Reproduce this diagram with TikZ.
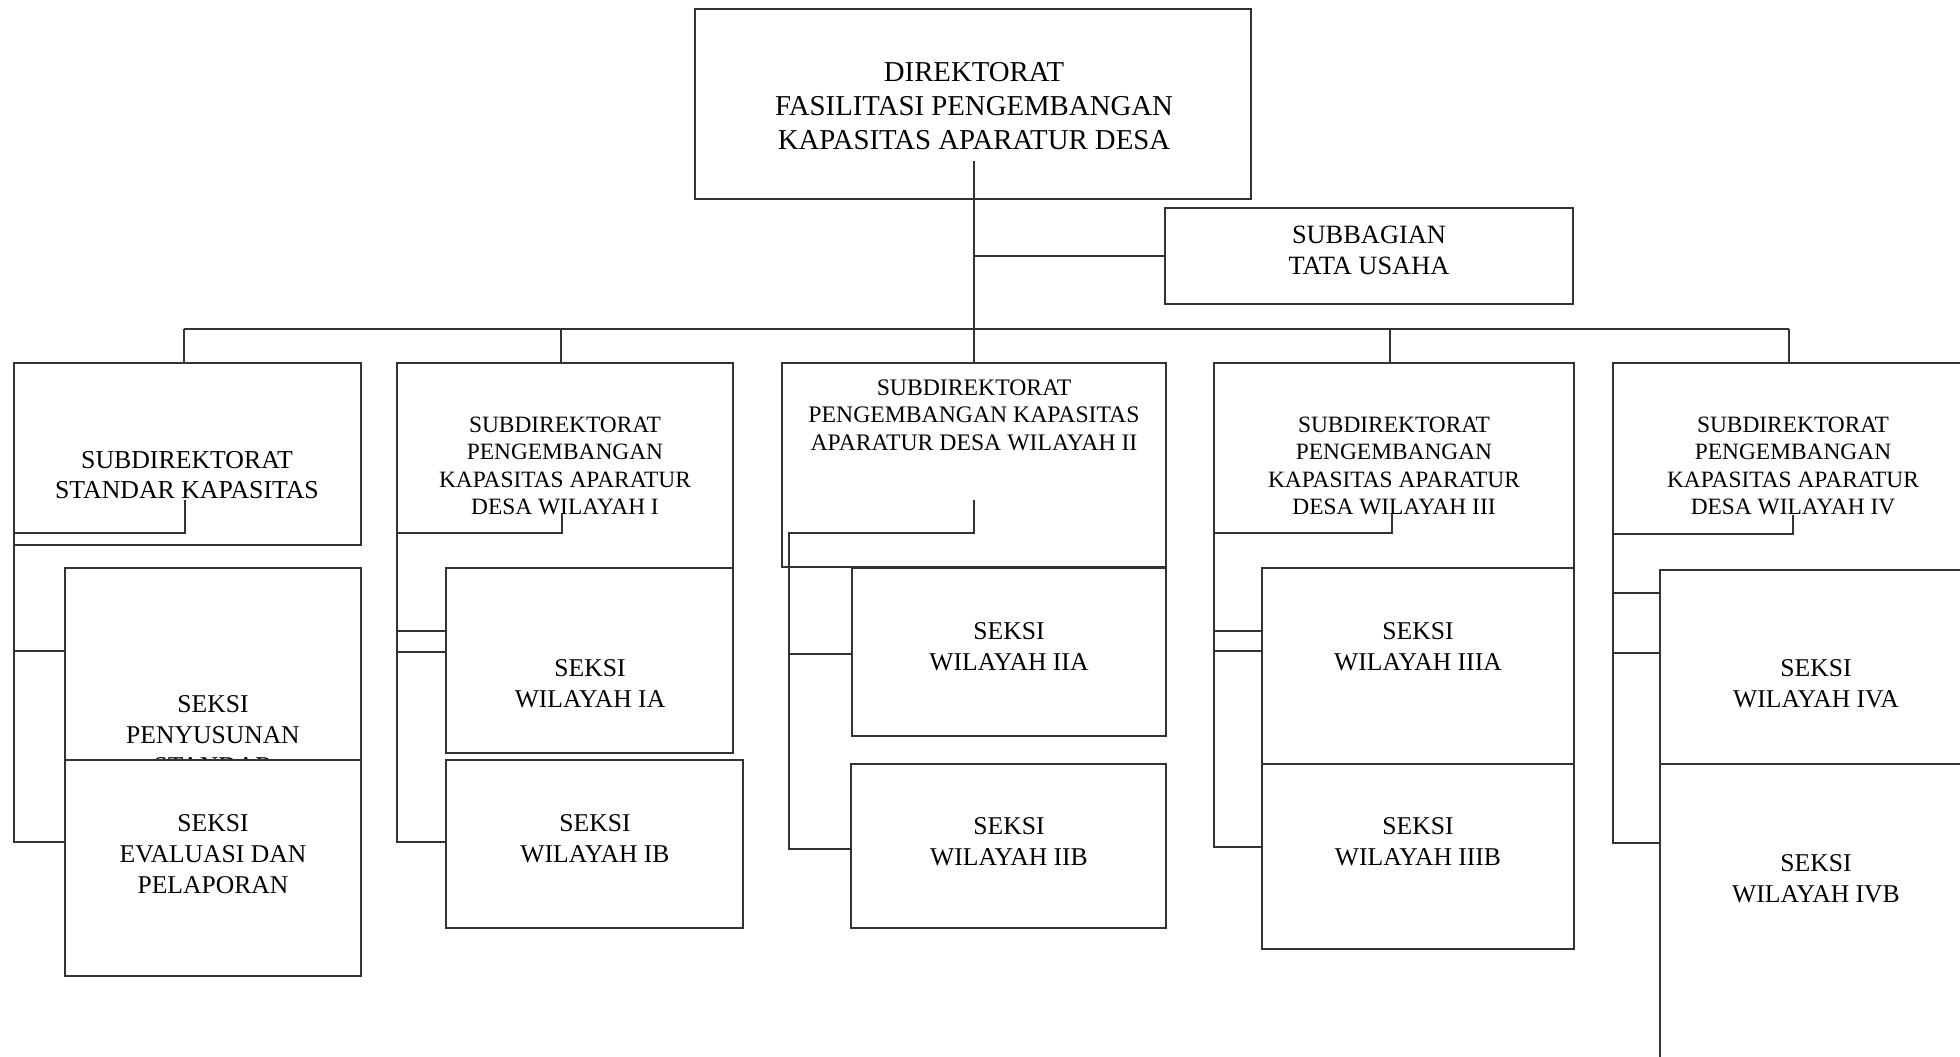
\documentclass[tikz,border=0pt]{standalone}
\usepackage{fontspec}
\setmainfont{Liberation Serif}
\usetikzlibrary{fit}
\begin{document}
\begin{tikzpicture}[x=0.5pt,y=-0.5pt,
  ln/.style={draw=black!80, line width=0.7pt},
  box/.style={ln, rectangle, inner sep=0pt, fill=white},
  tbig/.style={align=center, inner sep=0pt, font=\fontsize{14.4}{16.9}\selectfont},
  tmid/.style={align=center, inner sep=0pt, font=\fontsize{13.2}{15.5}\selectfont},
  tsub/.style={align=center, inner sep=0pt, font=\fontsize{11.7}{13.75}\selectfont},
  tsek/.style={align=center, inner sep=0pt, font=\fontsize{12.8}{15.5}\selectfont}]
\useasboundingbox (0,0) rectangle (1960,1056);
\clip (0,0) rectangle (1960,1056);

% upper boxes
\node[box, fit={(695,9) (1251,199)}] (top) {};
\node[box, fit={(1165,208) (1573,304)}] (tu) {};
\node[box, fit={(14,363) (361,545)}] (s1) {};
\node[box, fit={(397,363) (733,631)}] (s2) {};
\node[box, fit={(782,363) (1166,567)}] (s3) {};
\node[box, fit={(1214,363) (1574,631)}] (s4) {};
\node[box, fit={(1613,363) (1975,593)}] (s5) {};

% texts of upper boxes
\node[tbig] (ttop) at (974,106) {DIREKTORAT\\FASILITASI PENGEMBANGAN\\KAPASITAS APARATUR DESA};
\node[tmid] (ttu) at (1369,250) {SUBBAGIAN\\TATA USAHA};
\node[tmid, font=\fontsize{12.9}{15}\selectfont] (ts1) at (187,475) {SUBDIREKTORAT\\STANDAR KAPASITAS};
\node[tsub] (ts2) at (565,466) {SUBDIREKTORAT\\PENGEMBANGAN\\KAPASITAS APARATUR\\DESA WILAYAH I};
\node[tsub, font=\fontsize{11.85}{13.75}\selectfont] (ts3) at (974,415) {SUBDIREKTORAT\\PENGEMBANGAN KAPASITAS\\APARATUR DESA WILAYAH II};
\node[tsub] (ts4) at (1394,466) {SUBDIREKTORAT\\PENGEMBANGAN\\KAPASITAS APARATUR\\DESA WILAYAH III};
\node[tsub] (ts5) at (1793,466) {SUBDIREKTORAT\\PENGEMBANGAN\\KAPASITAS APARATUR\\DESA WILAYAH IV};

% trunk, bus and drops
\coordinate (tr0) at (974,161);
\coordinate (trtu) at (974,256);
\coordinate (bus1) at (184,329);
\coordinate (bus2) at (561,329);
\coordinate (bus3) at (974,329);
\coordinate (bus4) at (1390,329);
\coordinate (bus5) at (1789,329);
\draw[ln] (tr0) -- (s3.north);
\draw[ln] (trtu) -- (tu.west);
\draw[ln] (bus1) -- (bus5);
\draw[ln] (bus1) -- (bus1 |- s1.north);
\draw[ln] (bus2) -- (bus2 |- s2.north);
\draw[ln] (bus4) -- (bus4 |- s4.north);
\draw[ln] (bus5) -- (bus5 |- s5.north);

% section connectors (coordinates)
\coordinate (e1) at (185,500);  \coordinate (v1) at (14,533);
\coordinate (e2) at (562,513);  \coordinate (v2) at (397,533);
\coordinate (e3) at (974,500);  \coordinate (v3) at (789,533);
\coordinate (e4) at (1392,513); \coordinate (v4) at (1214,533);
\coordinate (e5) at (1793,515); \coordinate (v5) at (1613,534);

% lower boxes, drawn in order
\node[box, fit={(65,568) (361,902)}] (k1a) {};
\node[tsek] (tk1a) at (213,735) {SEKSI\\PENYUSUNAN\\STANDAR};
\node[box, fit={(65,760) (361,976)}] (k1b) {};
\node[tsek] (tk1b) at (213,854) {SEKSI\\EVALUASI DAN\\PELAPORAN};

\node[box, fit={(446,568) (733,753)}] (k2a) {};
\node[tsek] (tk2a) at (590,683.5) {SEKSI\\WILAYAH IA};
\node[box, fit={(446,760) (743,928)}] (k2b) {};
\node[tsek] (tk2b) at (595,838.5) {SEKSI\\WILAYAH IB};

\node[box, fit={(852,568) (1166,736)}] (k3a) {};
\node[tsek] (tk3a) at (1009,646.5) {SEKSI\\WILAYAH IIA};
\node[box, fit={(851,764) (1166,928)}] (k3b) {};
\node[tsek] (tk3b) at (1009,841.5) {SEKSI\\WILAYAH IIB};

\node[box, fit={(1262,568) (1574,764)}] (k4a) {};
\node[tsek] (tk4a) at (1418,646.5) {SEKSI\\WILAYAH IIIA};
\node[box, fit={(1262,764) (1574,949)}] (k4b) {};
\node[tsek] (tk4b) at (1418,841.5) {SEKSI\\WILAYAH IIIB};

\node[box, fit={(1660,570) (1975,764)}] (k5a) {};
\node[tsek] (tk5a) at (1816,684) {SEKSI\\WILAYAH IVA};
\node[box, fit={(1660,764) (1975,1080)}] (k5b) {};
\node[tsek] (tk5b) at (1816,879) {SEKSI\\WILAYAH IVB};

% elbow connectors to sections
\draw[ln] (e1) -- (e1 |- v1) -- (v1) -- (v1 |- 0,842) -- (k1b.west |- 0,842);
\draw[ln] (v1 |- 0,651) -- (k1a.west |- 0,651);
\draw[ln] (e2) -- (e2 |- v2) -- (v2) -- (v2 |- 0,842) -- (k2b.west |- 0,842);
\draw[ln] (v2 |- 0,652) -- (k2a.west |- 0,652);
\draw[ln] (v2 |- s2.south) -- (k2a.west |- s2.south);
\draw[ln] (e3) -- (e3 |- v3) -- (v3) -- (v3 |- 0,849) -- (k3b.west |- 0,849);
\draw[ln] (v3 |- 0,654) -- (k3a.west |- 0,654);
\draw[ln] (e4) -- (e4 |- v4) -- (v4) -- (v4 |- 0,847) -- (k4b.west |- 0,847);
\draw[ln] (v4 |- 0,651) -- (k4a.west |- 0,651);
\draw[ln] (v4 |- s4.south) -- (k4a.west |- s4.south);
\draw[ln] (e5) -- (e5 |- v5) -- (v5) -- (v5 |- 0,843) -- (k5b.west |- 0,843);
\draw[ln] (v5 |- 0,653) -- (k5a.west |- 0,653);
\draw[ln] (v5 |- s5.south) -- (k5a.west |- s5.south);
\end{tikzpicture}
\end{document}
